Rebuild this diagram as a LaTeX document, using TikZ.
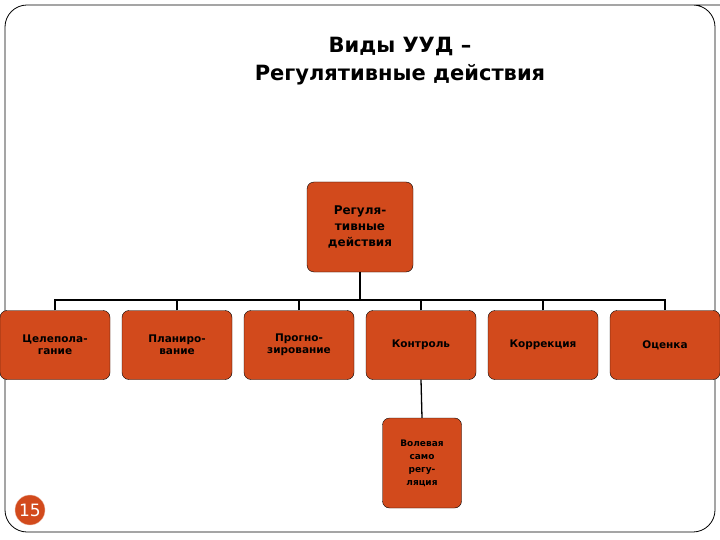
\documentclass[tikz,border=0pt]{standalone}
\usepackage{fontspec}
\setmainfont{DejaVu Sans}
\definecolor{boxc}{HTML}{D24A1C}
\begin{document}
\begin{tikzpicture}[x=1pt,y=-1pt,
  bx/.style={draw=black,fill=boxc,rounded corners=7pt,minimum width=110pt,minimum height=69pt,align=center,font=\bfseries\fontsize{10.5}{12}\selectfont,inner sep=1pt},
  ln/.style={draw=black,line width=1.3pt}]
\useasboundingbox (0,0) rectangle (720,540);
\draw[black,line width=0.8pt,rounded corners=22pt] (5,5) -- (700,5) -- (715,5) -- (715,532) -- (5,532) -- cycle;
\node[font=\bfseries\fontsize{21}{28}\selectfont,align=center] (title) at (400,61) {Виды УУД –\\Регулятивные действия};
\node[bx,minimum width=106pt,minimum height=90pt,font=\bfseries\fontsize{12}{16}\selectfont] (top) at (360,227) {Регуля-\\тивные\\действия};
\node[bx] (b1) at (55,345) {Целепола-\\гание};
\node[bx] (b2) at (177,345) {Планиро-\\вание};
\node[bx] (b3) at (299,345) {Прогно-\\зирование};
\node[bx] (b4) at (421,345) {Контроль};
\node[bx] (b5) at (543,345) {Коррекция};
\node[bx] (b6) at (665,345) {Оценка};
\node[bx,minimum width=79pt,minimum height=90pt,font=\bfseries\fontsize{9}{13}\selectfont] (b7) at (422,463) {Волевая\\само\\регу-\\ляция};
\coordinate (bus) at (360,300);
\draw[ln] (top.south) -- (bus);
\draw[ln] (b1.north) |- (bus) -| (b6.north);
\foreach \n in {b2,b3,b4,b5} \draw[ln] (\n.north) -- (\n.north |- bus);
\draw[ln] (b4.south) -- (b7.north);
\node[circle,fill=boxc,draw=boxc!40,minimum size=30pt,inner sep=0pt,text=white,font=\fontsize{17}{17}\selectfont] (pg) at (30,510) {15};
\end{tikzpicture}
\end{document}
